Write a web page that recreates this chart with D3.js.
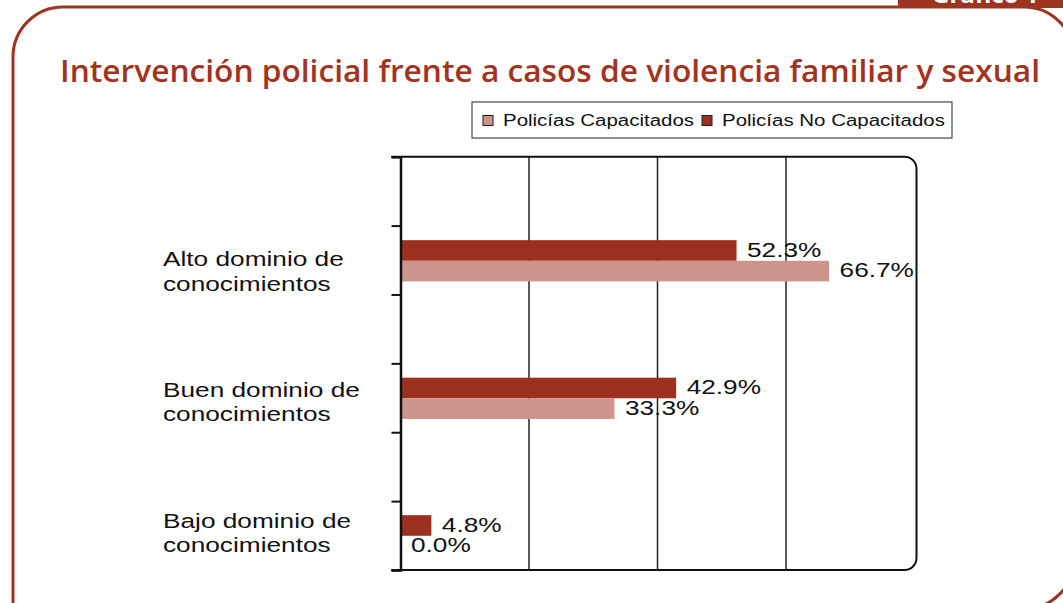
<!DOCTYPE html>
<html>
<head>
<meta charset="utf-8">
<script src="https://cdn.jsdelivr.net/npm/d3@7"></script>
<style>
  body { margin: 0; background: #fff; }
  svg { display: block; }
</style>
</head>
<body>
<div id="chart"></div>
<script>
// data
const categories = ["Alto dominio de conocimientos", "Buen dominio de conocimientos", "Bajo dominio de conocimientos"]
const labelLines = [["Alto dominio de", "conocimientos"], ["Buen dominio de", "conocimientos"], ["Bajo dominio de", "conocimientos"]]
const seriesNames = ["Policías No Capacitados", "Policías Capacitados"]
const noCapacitados = [52.3, 42.9, 4.8]
const capacitados = [66.7, 33.3, 0.0]
const legendOrder = ["Policías Capacitados", "Policías No Capacitados"]
const xTicks = [0, 20, 40, 60, 80]

const W = 1063, H = 603
const red = "#9c2f1d", pink = "#cc948b", titleRed = "#a33320"
const stretch = 1.28
const font = "'Liberation Sans', Arial, sans-serif"

const svg = d3.select("#chart").append("svg")
    .attr("width", W).attr("height", H)

// outer frame of the page: round top-left and bottom-right, left side runs off the bottom
svg.append("path")
    .attr("d", "M13,660 V57 A50,50 0 0 1 63,7 H1024 A50,50 0 0 1 1074,57 V559 A50,50 0 0 1 1024,609 H13")
    .attr("fill", "none").attr("stroke", "#9e3420").attr("stroke-width", 3)

// the tab in the top right corner, cut by the page edge
svg.append("rect")
    .attr("x", 898).attr("y", -20).attr("width", 170).attr("height", 28)
    .attr("fill", "#9e3420")
svg.append("text")
    .attr("x", 932).attr("y", 3)
    .attr("font-family", "'Open Sans', sans-serif").attr("font-weight", 700)
    .attr("font-size", 24).attr("fill", "#fff")
    .text("Gráfico 1")

svg.append("text")
    .attr("x", 60).attr("y", 82)
    .attr("font-family", "'Open Sans', sans-serif").attr("font-weight", 600)
    .attr("font-size", 30).attr("fill", titleRed)
    .attr("textLength", 980).attr("lengthAdjust", "spacingAndGlyphs")
    .text("Intervención policial frente a casos de violencia familiar y sexual")

function wideText(sel, x, y, str, size) {
    return sel.append("text")
        .attr("transform", `translate(${x},${y}) scale(${stretch},1)`)
        .attr("font-family", font).attr("font-size", size).attr("fill", "#111")
        .text(str)
}

// scales
const plotTop = 156.7, plotBottom = 570
const x = d3.scaleLinear().domain([0, 80]).range([400.5, 914.5])
const y = d3.scaleBand().domain(categories).range([plotTop, plotBottom])
    .paddingInner(0.7).paddingOuter(0.353).align(0.86)
const ySub = d3.scaleBand().domain(seriesNames).range([0, y.bandwidth()])
const tickY = d3.scaleLinear().domain([0, 6]).range([plotTop, plotBottom])
const labelY = d3.scalePoint().domain(categories).range([266, 527.7])
const color = d3.scaleOrdinal().domain(seriesNames).range([red, pink])

// gridlines
svg.append("g").selectAll("line")
    .data(xTicks.slice(1, -1))
    .join("line")
    .attr("x1", d => x(d)).attr("x2", d => x(d))
    .attr("y1", plotTop).attr("y2", plotBottom)
    .attr("stroke", "#222").attr("stroke-width", 1.5)

// plot frame, open on the left with rounded right corners
const xr = x(80) + 2, r = 12
svg.append("path")
    .attr("d", `M${x(0) - 9},${plotTop} H${xr - r} A${r},${r} 0 0 1 ${xr},${plotTop + r} V${plotBottom - r} A${r},${r} 0 0 1 ${xr - r},${plotBottom} H${x(0) - 9}`)
    .attr("fill", "none").attr("stroke", "#111").attr("stroke-width", 2)

// bars
const rows = categories.map((c, i) => ({ cat: c, values: [
    { name: seriesNames[0], v: noCapacitados[i] },
    { name: seriesNames[1], v: capacitados[i] }
] }))

const groups = svg.append("g").selectAll("g")
    .data(rows)
    .join("g")
    .attr("transform", d => `translate(0,${y(d.cat)})`)

groups.selectAll("rect")
    .data(d => d.values)
    .join("rect")
    .attr("x", x(0))
    .attr("y", d => ySub(d.name))
    .attr("width", d => x(d.v) - x(0))
    .attr("height", ySub.bandwidth())
    .attr("fill", d => color(d.name))

groups.each(function (d) {
    const g = d3.select(this)
    d.values.forEach(s => {
        wideText(g, x(s.v) + 10.5, ySub(s.name) + ySub.bandwidth() - 4, s.v.toFixed(1) + "%", 20.5)
    })
})

// left axis with its tick marks
const yAxis = d3.axisLeft(tickY).tickValues(d3.range(7)).tickSize(9).tickFormat("")
svg.append("g")
    .attr("transform", `translate(${x(0)},0)`)
    .call(yAxis)
    .call(g => g.select(".domain").attr("stroke", "#111").attr("stroke-width", 2.5))
    .call(g => g.selectAll(".tick line").attr("stroke", "#111").attr("stroke-width", 2))

// category labels
categories.forEach((c, i) => {
    labelLines[i].forEach((line, j) => {
        wideText(svg, 163, labelY(c) + j * 24.5, line, 20.5)
    })
})

// legend
const legend = svg.append("g")
legend.append("rect")
    .attr("x", 472).attr("y", 102).attr("width", 480).attr("height", 36)
    .attr("fill", "#fff").attr("stroke", "#444").attr("stroke-width", 1.2)
const legendX = [483, 702]
legendOrder.forEach((name, i) => {
    legend.append("rect")
        .attr("x", legendX[i]).attr("y", 115.5).attr("width", 10).attr("height", 10)
        .attr("fill", color(name)).attr("stroke", "#222").attr("stroke-width", 1)
    wideText(legend, legendX[i] + 20, 125.7, name, 16)
})
</script>
</body>
</html>
